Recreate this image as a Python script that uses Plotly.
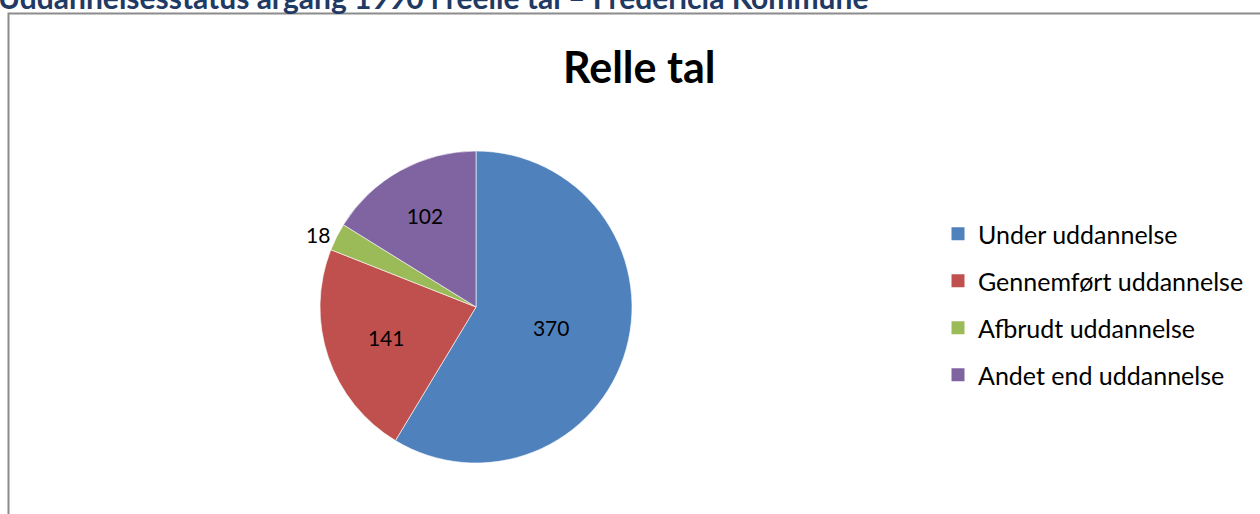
import plotly.graph_objects as go

categories = ["Under uddannelse", "Gennemført uddannelse", "Afbrudt uddannelse", "Andet end uddannelse"]
values = [370, 141, 18, 102]
colors = ["#4F81BD", "#C0504D", "#9BBB59", "#8064A2"]
label_positions = ["inside", "inside", "outside", "inside"]

chart_title = "Relle tal"
page_title = "Uddannelsesstatus årgang 1990 i reelle tal – Fredericia Kommune"

W, H = 1260, 514
FONT = "Lato"

fig = go.Figure()

fig.add_trace(go.Pie(
    labels=categories,
    values=values,
    sort=False,
    direction="clockwise",
    rotation=0,
    marker=dict(colors=colors, line=dict(color="#FFFFFF", width=0.6)),
    textinfo="value",
    textposition=label_positions,
    insidetextorientation="horizontal",
    textfont=dict(family=FONT, size=21, color="#000000"),
    showlegend=False,
    hoverinfo="label+value",
    domain=dict(x=[320 / W, 632 / W], y=[1 - 463 / H, 1 - 151 / H]),
))

for name, col in zip(categories, colors):
    fig.add_trace(go.Scatter(
        x=[None], y=[None], mode="markers", name=name,
        legendgroup=name,
        marker=dict(symbol="square", size=13, color=col),
    ))

fig.update_layout(
    width=W, height=H,
    margin=dict(l=0, r=0, t=0, b=0),
    paper_bgcolor="white", plot_bgcolor="white",
    xaxis=dict(visible=False), yaxis=dict(visible=False),
    font=dict(family=FONT, color="#000000"),
    legend=dict(
        x=938 / W, xanchor="left",
        y=1 - 211 / H, yanchor="top",
        font=dict(family=FONT, size=25, color="#000000"),
        tracegroupgap=11.5,
        itemsizing="trace",
        bgcolor="rgba(0,0,0,0)",
    ),
    shapes=[dict(
        type="rect", xref="paper", yref="paper",
        x0=8.5 / W, x1=1.05, y0=-0.05, y1=1 - 13.5 / H,
        line=dict(color="#8C8C8C", width=2), fillcolor="rgba(0,0,0,0)",
    )],
    annotations=[
        dict(text=f"<b>{chart_title}</b>", xref="paper", yref="paper",
             x=639 / W, y=1 - 66 / H, xanchor="center", yanchor="middle",
             showarrow=False, font=dict(family=FONT, size=43, color="#000000")),
        dict(text=f"<b>{page_title}</b>", xref="paper", yref="paper",
             x=-4 / W, y=1 + 3 / H, xanchor="left", yanchor="middle",
             showarrow=False, font=dict(family=FONT, size=30, color="#1F3A64")),
    ],
)

fig.write_html(
    "out.html",
    config={"displayModeBar": False},
    post_script="document.body.style.margin='0';document.body.style.overflow='hidden';",
)
